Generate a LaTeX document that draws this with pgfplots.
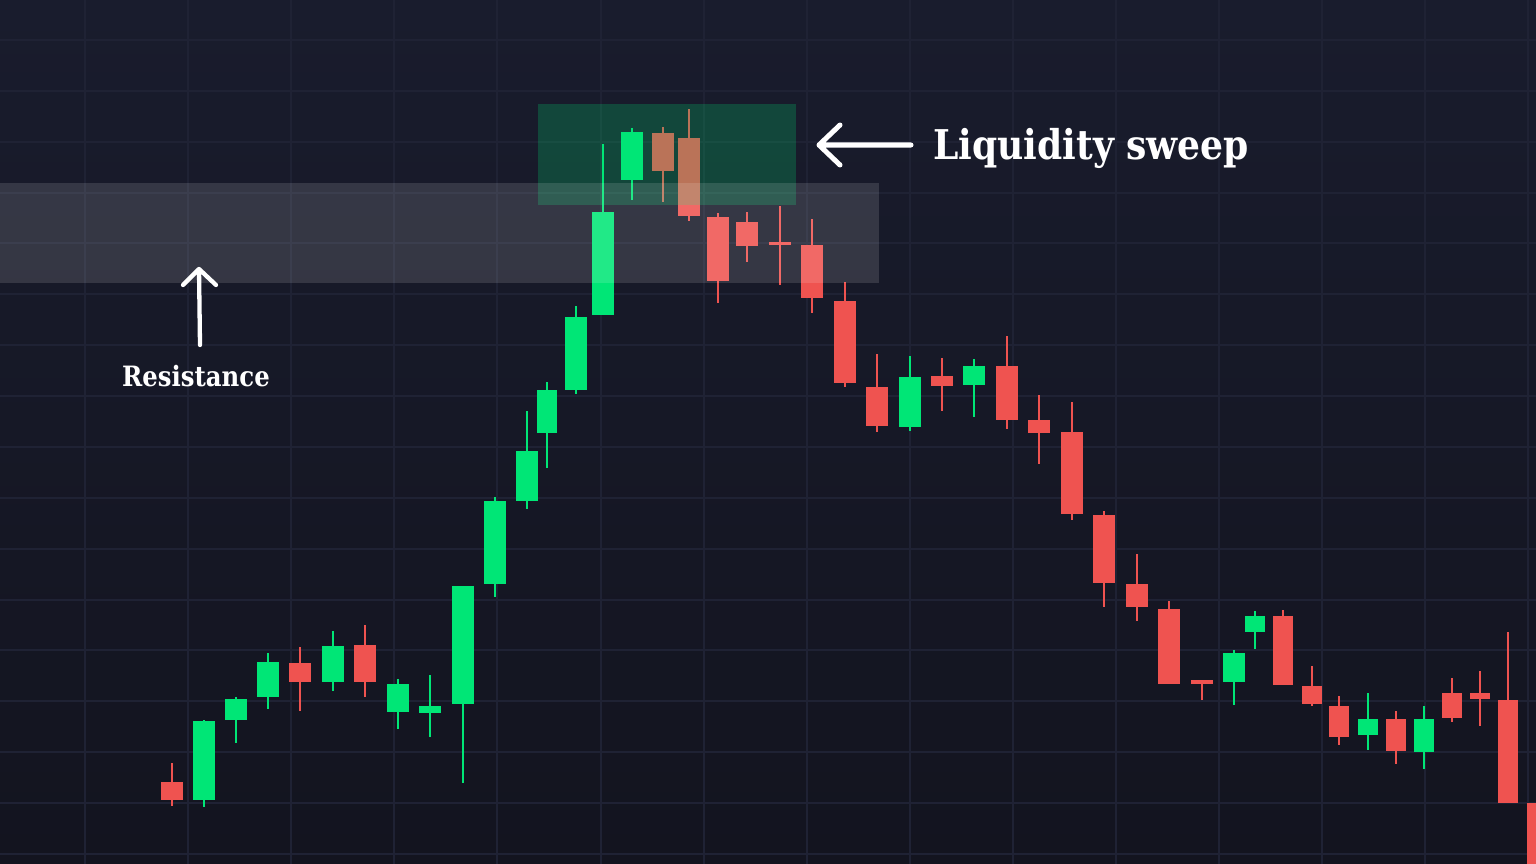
\documentclass[border=0pt]{standalone}
\usepackage{fontspec}
\usepackage{graphicx}
\usepackage{pgfplots}
\usepackage{pgfplotstable}
\pgfplotsset{compat=1.18}
\newfontfamily\labfont{DejaVu Serif}[BoldFont={* Bold}]

\definecolor{bgtop}{HTML}{191C2D}
\definecolor{bgbot}{HTML}{13141F}
\definecolor{gridc}{HTML}{1F2234}
\definecolor{cgreen}{HTML}{00E676}
\definecolor{cred}{HTML}{EF5350}

% candles in picture pixels: x, body top, body bottom, high, low
\pgfplotstableread{
x    top bot hi  lo
204  721 800 720 807
236  699 720 697 743
268  662 697 653 709
333  646 682 631 691
398  684 712 679 729
430  706 713 675 737
463  586 704 586 783
495  501 584 497 597
527  451 501 411 509
576  317 390 306 394
603  212 315 144 315
632  132 180 128 200
910  377 427 356 431
974  366 385 359 417
1234 653 682 650 705
}\greenwide
\pgfplotstableread{
x    top bot hi  lo
547  390 433 382 468
1255 616 632 611 649
1368 719 735 693 750
1424 719 752 706 769
}\greennarrow
\pgfplotstableread{
x    top bot hi  lo
172  782 800 763 806
300  663 682 647 711
365  645 682 625 697
663  133 171 127 202
689  138 216 109 221
718  217 281 213 303
747  222 246 212 262
780  242 245 206 285
812  245 298 219 313
845  301 383 282 387
877  387 426 354 432
942  376 386 358 411
1007 366 420 336 429
1039 420 433 395 464
1072 432 514 402 520
1104 515 583 511 607
1137 584 607 554 621
1169 609 684 601 684
1202 680 684 680 700
}\redwide
\pgfplotstableread{
x    top bot hi  lo
1283 616 685 610 685
1312 686 704 666 706
1339 706 737 696 745
1396 719 751 711 764
1452 693 718 678 722
1480 693 699 671 726
1508 700 803 632 803
1537 803 900 793 900
}\rednarrow

\pgfplotsset{
  wick/.style={draw=none, mark=none, forget plot,
    error bars/.cd, y dir=both, y explicit, error mark=none,
    error bar style={line width=2.2pt, draw=#1, solid}},
  body/.style 2 args={draw=none, mark=none, forget plot,
    error bars/.cd, y dir=both, y explicit, error mark=none,
    error bar style={line width=#2, draw=#1, solid}},
}

\begin{document}
\begin{tikzpicture}
\useasboundingbox (0,0) rectangle (1536pt,864pt);
\begin{axis}[
    scale only axis,
    width=1536pt, height=864pt,
    xmin=0, xmax=1536, ymin=0, ymax=864,
    y dir=reverse,
    axis background/.style={top color=bgtop, bottom color=bgbot},
    axis line style={draw=none},
    tick style={draw=none},
    xticklabels={}, yticklabels={},
    xtick={85,188,291,394,497,601,704,807,910,1013,1116,1219,1322,1425,1528},
    ytick={40,91,142,193,243,294,345,396,447,498,549,600,650,701,752,803,854},
    grid=major,
    major grid style={draw=gridc, line width=1.3pt},
    clip=true,
]
% wicks
\addplot[wick=cgreen] table[x=x, y expr={(\thisrow{hi}+\thisrow{lo})/2}, y error expr={(\thisrow{lo}-\thisrow{hi})/2}] {\greenwide};
\addplot[wick=cgreen] table[x=x, y expr={(\thisrow{hi}+\thisrow{lo})/2}, y error expr={(\thisrow{lo}-\thisrow{hi})/2}] {\greennarrow};
\addplot[wick=cred] table[x=x, y expr={(\thisrow{hi}+\thisrow{lo})/2}, y error expr={(\thisrow{lo}-\thisrow{hi})/2}] {\redwide};
\addplot[wick=cred] table[x=x, y expr={(\thisrow{hi}+\thisrow{lo})/2}, y error expr={(\thisrow{lo}-\thisrow{hi})/2}] {\rednarrow};
% bodies
\addplot[body={cgreen}{22.5pt}] table[x=x, y expr={(\thisrow{top}+\thisrow{bot})/2}, y error expr={(\thisrow{bot}-\thisrow{top})/2}] {\greenwide};
\addplot[body={cgreen}{20pt}] table[x=x, y expr={(\thisrow{top}+\thisrow{bot})/2}, y error expr={(\thisrow{bot}-\thisrow{top})/2}] {\greennarrow};
\addplot[body={cred}{22.5pt}] table[x=x, y expr={(\thisrow{top}+\thisrow{bot})/2}, y error expr={(\thisrow{bot}-\thisrow{top})/2}] {\redwide};
\addplot[body={cred}{20.5pt}] table[x=x, y expr={(\thisrow{top}+\thisrow{bot})/2}, y error expr={(\thisrow{bot}-\thisrow{top})/2}] {\rednarrow};

% liquidity sweep box and resistance zone
\fill[cgreen, fill opacity=0.22] (axis cs:538,104) rectangle (axis cs:796,205);
\fill[white, fill opacity=0.13] (axis cs:0,183) rectangle (axis cs:879,283);

% arrows
\draw[white, line width=5pt, line cap=round, line join=round]
  (axis cs:911,145) -- (axis cs:819,145)
  (axis cs:840,125) -- (axis cs:819,145) -- (axis cs:840,165);
\draw[white, line width=4.3pt, line cap=round, line join=round]
  (axis cs:200,345) -- (axis cs:199,269)
  (axis cs:183,285) -- (axis cs:199,269) -- (axis cs:216,285);

% labels
\node[anchor=base west, inner sep=0pt, text=white,
  font=\labfont\bfseries\fontsize{41}{48}\selectfont] at (axis cs:933,160) {\scalebox{0.88}[1]{Liquidity sweep}};
\node[anchor=base, inner sep=0pt, text=white,
  font=\labfont\bfseries\fontsize{28}{34}\selectfont] at (axis cs:196,386) {\scalebox{0.87}[1]{Resistance}};
\end{axis}
\end{tikzpicture}
\end{document}
